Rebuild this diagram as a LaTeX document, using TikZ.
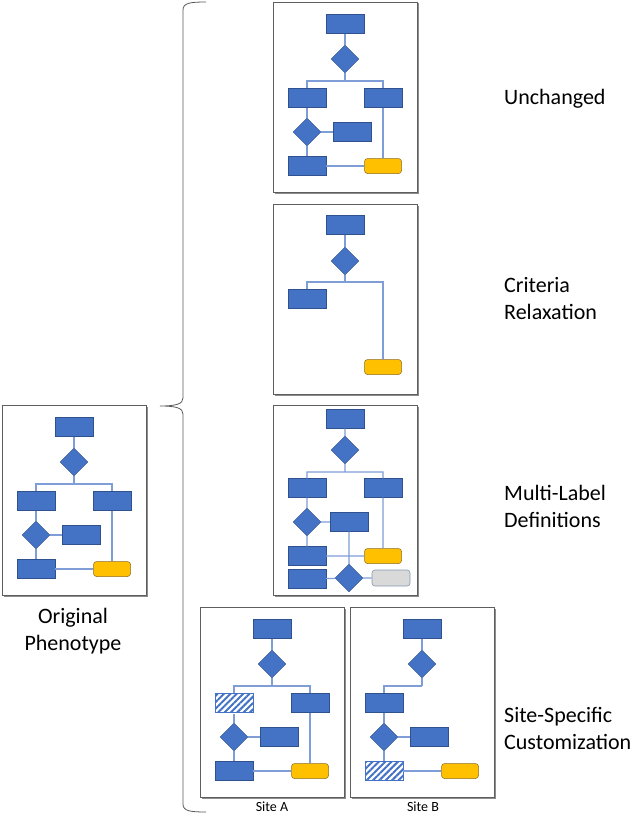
\documentclass[tikz,border=0pt]{standalone}
\usepackage{fontspec}
\setmainfont{Carlito}
\usetikzlibrary{shapes.geometric,patterns.meta}
\definecolor{fblue}{HTML}{4472C4}
\definecolor{eblue}{HTML}{2F528F}
\definecolor{fyel}{HTML}{FFC000}
\definecolor{eyel}{HTML}{8C6D1F}
\definecolor{fgry}{HTML}{D9D9D9}
\definecolor{egry}{HTML}{8497B0}
\definecolor{cline}{HTML}{7F9DD6}
\definecolor{framec}{HTML}{5E5E5E}
\definecolor{bracec}{HTML}{595959}
\tikzset{
 blk/.style={rectangle, fill=fblue, draw=eblue, line width=0.3pt, minimum width=38pt, minimum height=19pt, inner sep=0pt},
 hatchbox/.style={rectangle, draw=fblue, line width=0.6pt, preaction={fill=white}, pattern={Lines[angle=45,distance=4.5pt,line width=2pt]}, pattern color=fblue, minimum width=38pt, minimum height=19pt, inner sep=0pt},
 dia/.style={diamond, aspect=1, fill=fblue, draw=eblue, line width=0.3pt, minimum width=28pt, minimum height=28pt, inner sep=0pt},
 yel/.style={rectangle, rounded corners=3pt, fill=fyel, draw=eyel, line width=0.5pt, minimum width=37pt, minimum height=15pt, inner sep=0pt},
 gry/.style={rectangle, rounded corners=3pt, fill=fgry, draw=egry, line width=0.6pt, minimum width=38pt, minimum height=16pt, inner sep=0pt},
 conn/.style={draw=cline, line width=1.2pt},
 panel/.style={draw=framec, line width=0.9pt, fill=white},
 pshadow/.style={fill=black!45},
 lab/.style={font=\fontsize{22}{27}\selectfont, inner sep=0pt, align=left, anchor=base west},
 sitelab/.style={font=\fontsize{14}{16}\selectfont, inner sep=0pt, anchor=base},
 bracestyle/.style={draw=bracec, line width=0.8pt},
}
\newcommand\panelframe{%
 \fill[pshadow] (1.5,1.5) rectangle (145.5,191.5);
 \draw[panel] (0,0) rectangle (144,190);}
\newcommand\corepanel[3]{%
 \panelframe
 \node[blk] (#1t) at (72,22) {};
 \node[dia] (#1d1) at (72,57) {};
 \coordinate (#1br) at (72,79);
 \node[#2] (#1L) at (34,96) {};
 \node[dia] (#1d2) at (34,130) {};
 \node[blk] (#1M) at (79,130) {};
 \node[#3] (#1B) at (34,164) {};
 \node[yel] (#1Y) at (110,164) {};
 \draw[conn] (#1t) -- (#1d1) (#1d1) -- (#1br) (#1br) -| (#1L) (#1L) -- (#1d2)
   (#1d2) -- (#1M) (#1d2) -- (#1B) (#1B) -- (#1Y);}
\begin{document}
\begin{tikzpicture}[x=1pt,y=-1pt]
\useasboundingbox (0,0) rectangle (639,816);
\fill[white] (0,0) rectangle (639,816);

% Original phenotype
\begin{scope}[shift={(2,405)}]
 \corepanel{o}{blk}{blk}
 \node[blk] (oR) at (110,96) {};
 \draw[conn] (obr) -| (oR) (oR) -- (oY);
\end{scope}
\node[align=center, anchor=base, inner sep=0pt, font=\fontsize{22}{27}\selectfont] (origlab) at (73,650) {Original\\Phenotype};

% Brace
\draw[bracestyle] (206,2) .. controls (190,2) and (183,3) .. (183,10) -- (183,398)
  .. controls (183,404) and (176,406) .. (160,406)
  .. controls (176,406) and (183,408) .. (183,414) -- (183,804)
  .. controls (183,811) and (190,812) .. (206,812);

% Unchanged
\begin{scope}[shift={(273,2)}]
 \corepanel{u}{blk}{blk}
 \node[blk] (uR) at (110,96) {};
 \draw[conn] (ubr) -| (uR) (uR) -- (uY);
\end{scope}
\node[lab] (l1) at (504,104) {Unchanged};

% Criteria relaxation
\begin{scope}[shift={(273,204)}]
 \panelframe
 \node[blk] (ct) at (72,21) {};
 \node[dia] (cd1) at (72,57) {};
 \coordinate (cbr) at (72,78);
 \node[blk] (cL) at (34,95) {};
 \node[yel] (cY) at (110,163) {};
 \draw[conn] (ct) -- (cd1) (cd1) -- (cbr) (cbr) -| (cL) (cbr) -| (cY);
\end{scope}
\node[lab] (l2) at (504,319) {Criteria\\Relaxation};

% Multi-label
\begin{scope}[shift={(273,405)}]
 \panelframe
 \node[blk] (mt) at (72,14) {};
 \node[dia] (md1) at (72,45) {};
 \coordinate (mbr) at (72,67);
 \node[blk] (mL) at (34,83) {};
 \node[blk] (mR) at (110,83) {};
 \node[dia] (md2) at (34,117) {};
 \node[blk] (mM) at (76,117) {};
 \node[blk] (mB) at (34,151) {};
 \node[yel] (mY) at (110,151) {};
 \node[blk] (mB2) at (34,174) {};
 \node[dia] (md3) at (76,173) {};
 \node[gry] (mG) at (118,173) {};
 \draw[conn] (mt) -- (md1) (md1) -- (mbr) (mbr) -| (mL) (mbr) -| (mR)
   (mL) -- (md2) (md2) -- (mM) (md2) -- (mB) (mB) -- (mY) (mR) -- (mY)
   (mM) -- (md3) (mB2) -- (md3) (md3) -- (mG);
\end{scope}
\node[lab] (l3) at (504,527) {Multi-Label\\Definitions};

% Site A
\begin{scope}[shift={(200,607)}]
 \corepanel{a}{hatchbox}{blk}
 \node[blk] (aR) at (110,96) {};
 \draw[conn] (abr) -| (aR) (aR) -- (aY);
\end{scope}
\node[sitelab] (sa) at (272,811.5) {Site A};

% Site B
\begin{scope}[shift={(350,607)}]
 \corepanel{b}{blk}{hatchbox}
\end{scope}
\node[sitelab] (sb) at (423,811.5) {Site B};

\node[lab] (l4) at (504,749) {Site-Specific\\Customization};
\end{tikzpicture}
\end{document}
